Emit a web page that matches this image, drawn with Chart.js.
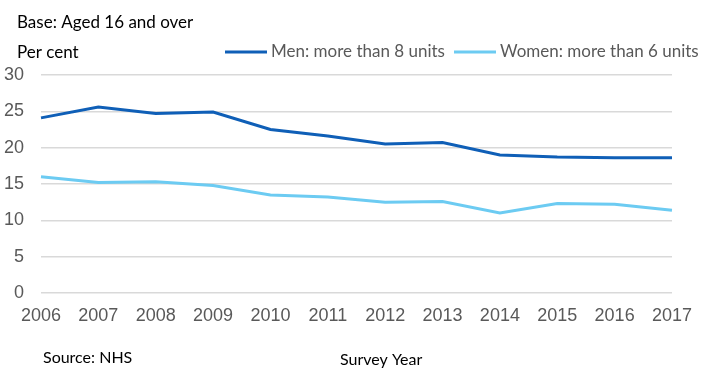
<!DOCTYPE html>
<html>
<head>
<meta charset="utf-8">
<script src="https://cdn.jsdelivr.net/npm/chart.js@4"></script>
<style>
  html, body { margin: 0; padding: 0; background: #fff; }
  #wrap { position: relative; width: 704px; height: 382px; }
</style>
</head>
<body>
<div id="wrap"><canvas id="drinkChart" width="704" height="382"></canvas></div>
<script>
const years = ['2006', '2007', '2008', '2009', '2010', '2011', '2012', '2013', '2014', '2015', '2016', '2017'];
const menValues = [24.1, 25.6, 24.7, 24.9, 22.5, 21.6, 20.5, 20.7, 19.0, 18.7, 18.6, 18.6];
const womenValues = [16.0, 15.2, 15.3, 14.8, 13.5, 13.2, 12.5, 12.6, 11.0, 12.3, 12.2, 11.4];
const yTicks = [0, 5, 10, 15, 20, 25, 30];
const seriesNames = ['Men: more than 8 units', 'Women: more than 6 units'];

const menColor = '#0f5fb7';
const womenColor = '#6ccbf2';

// titles, legend and notes drawn straight on the canvas
const extraText = {
    id: 'extraText',
    afterDraw(chart) {
        const ctx = chart.ctx;
        ctx.save();
        ctx.textBaseline = 'middle';
        ctx.textAlign = 'left';
        ctx.fillStyle = '#000';
        ctx.font = '17px Lato';
        ctx.fillText('Base: Aged 16 and over', 17, 23);
        ctx.fillText('Per cent', 17, 53);
        ctx.font = '16px Lato';
        ctx.fillText('Source: NHS', 43, 358);
        ctx.fillText('Survey Year', 340, 360);

        // legend
        const legendX = [225, 454];
        ctx.font = '17px Lato';
        ctx.fillStyle = '#595959';
        chart.data.datasets.forEach((ds, i) => {
            const x = legendX[i];
            ctx.strokeStyle = ds.borderColor;
            ctx.lineWidth = 3;
            ctx.beginPath();
            ctx.moveTo(x, 52);
            ctx.lineTo(x + 42, 52);
            ctx.stroke();
            ctx.fillText(ds.label, x + 46, 52);
        });
        ctx.restore();
    }
};

const ctx = document.getElementById('drinkChart').getContext('2d');

new Chart(ctx, {
    type: 'line',
    data: {
        labels: years,
        datasets: [{
            label: seriesNames[0],
            data: menValues,
            borderColor: menColor,
            borderWidth: 3,
            pointRadius: 0,
            tension: 0
        }, {
            label: seriesNames[1],
            data: womenValues,
            borderColor: womenColor,
            borderWidth: 3,
            pointRadius: 0,
            tension: 0
        }]
    },
    options: {
        responsive: false,
        animation: false,
        layout: {
            padding: { top: 75, right: 32, bottom: 49, left: 0 }
        },
        plugins: {
            legend: { display: false },
            tooltip: { enabled: false }
        },
        scales: {
            x: {
                offset: false,
                border: { display: false },
                grid: { display: false, drawTicks: false },
                ticks: {
                    color: '#595959',
                    font: { family: 'Liberation Sans', size: 18 },
                    padding: 12,
                    maxRotation: 0,
                    autoSkip: false
                },
                afterFit(scale) { scale.height = 40; }
            },
            y: {
                min: 0,
                max: 30,
                border: { display: false },
                grid: { color: '#d9d9d9', lineWidth: 1.5, drawTicks: false },
                afterBuildTicks(scale) {
                    scale.ticks = yTicks.map(v => ({ value: v }));
                },
                ticks: {
                    color: '#595959',
                    font: { family: 'Liberation Sans', size: 18 },
                    padding: 17
                },
                afterFit(scale) { scale.width = 41; }
            }
        }
    },
    plugins: [extraText]
});
</script>
</body>
</html>
